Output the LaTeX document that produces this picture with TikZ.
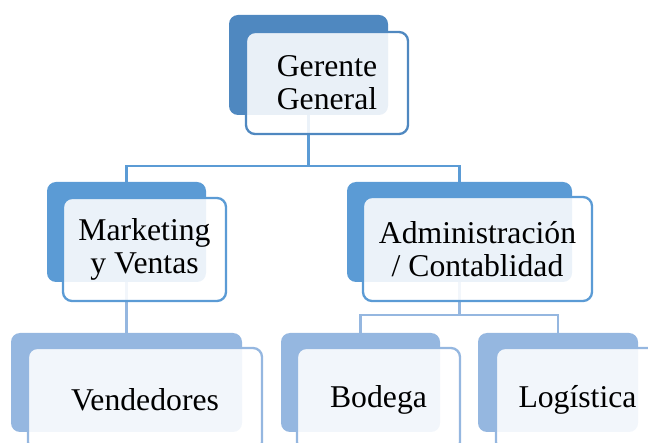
\documentclass[tikz,border=0pt]{standalone}
\usepackage{fontspec}
\setmainfont{Liberation Serif}
\definecolor{bA}{HTML}{4F88C0}
\definecolor{bB}{HTML}{5B9BD5}
\definecolor{bC}{HTML}{95B7E0}
\begin{document}
\begin{tikzpicture}[x=1pt,y=-1pt,
  back/.style={draw=none, rounded corners=9pt, inner sep=0pt},
  front/.style={draw, line width=2.3pt, rounded corners=9pt, fill=white, fill opacity=0.88, text opacity=1, align=center, font=\fontsize{31.7}{33}\selectfont, inner sep=0pt},
  conn/.style={line width=2.4pt}]
\useasboundingbox (0,0) rectangle (648,443);
\clip (0,0) rectangle (648,443);
% back boxes
\node[back, fill=bA, minimum width=159pt, minimum height=100pt] (b1) at (308.5,65) {};
\node[back, fill=bB, minimum width=159pt, minimum height=100pt] (b2) at (126.5,232) {};
\node[back, fill=bB, minimum width=225pt, minimum height=100pt] (b3) at (459.5,232) {};
\node[back, fill=bC, minimum width=231pt, minimum height=99pt] (b4) at (126.5,382.5) {};
\node[back, fill=bC, minimum width=159pt, minimum height=99pt] (b5) at (360.5,382.5) {};
\node[back, fill=bC, minimum width=160pt, minimum height=99pt] (b6) at (558,382.5) {};
% connectors
\coordinate (bus1) at (308.5,166);
\coordinate (bus2) at (459.5,315);
\draw[conn, draw=bB] (b1.south) -- (bus1) -| (b2.north);
\draw[conn, draw=bB] (bus1) -| (b3.north);
\draw[conn, draw=bC] (b2.south) -- (b4.north);
\draw[conn, draw=bC] (b3.south) -- (bus2) -| (b5.north);
\draw[conn, draw=bC] (bus2) -| (b6.north);
% front boxes
\node[front, draw=bA, minimum width=162pt, minimum height=102pt] (f1) at (327,83) {Gerente\\General};
\node[front, draw=bB, minimum width=163pt, minimum height=103pt] (f2) at (144.5,249.5) {Marketing\\y Ventas};
\node[front, draw=bB, minimum width=229pt, minimum height=104pt] (f3) at (477.5,249) {Administración\\/ Contablidad};
\node[front, draw=bC, minimum width=234pt, minimum height=103pt] (f4) at (145,399.5) {Vendedores};
\node[front, draw=bC, minimum width=163pt, minimum height=103pt] (f5) at (378.5,399.5) {Bodega};
\node[front, draw=bC, minimum width=163pt, minimum height=103pt] (f6) at (577.5,399.5) {Logística};
\end{tikzpicture}
\end{document}
